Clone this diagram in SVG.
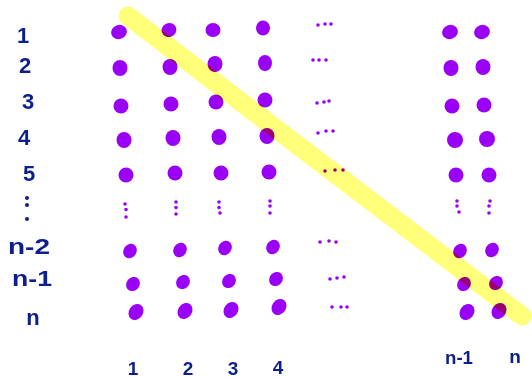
<svg xmlns="http://www.w3.org/2000/svg" width="532" height="379" viewBox="0 0 532 379">
<style>
  .lbl { font-family: "Liberation Sans", "DejaVu Sans", sans-serif; font-weight: bold; fill: #0c1f8c; text-anchor: middle; }
  .row { font-size: 22px; }
  .col { font-size: 19px; }
  .d { fill: #9a00f6; }
  .s { fill: #9a00f6; }
  .ld { fill: #0c1f8c; }
  .hl { stroke: #ffff7a; stroke-width: 19; stroke-linecap: round; fill: none; mix-blend-mode: multiply; }
</style>
<rect width="532" height="379" fill="#ffffff"/>

<g id="row-labels">
  <text class="lbl row" x="23" y="43">1</text>
  <text class="lbl row" x="25" y="73">2</text>
  <text class="lbl row" x="28" y="109">3</text>
  <text class="lbl row" x="24" y="145">4</text>
  <text class="lbl row" x="29" y="181">5</text>
  <circle class="ld" cx="27" cy="198" r="2"/>
  <circle class="ld" cx="27" cy="205" r="2"/>
  <circle class="ld" cx="27" cy="219" r="2"/>
  <text class="lbl row" x="29" y="254" textLength="42" lengthAdjust="spacingAndGlyphs">n-2</text>
  <text class="lbl row" x="32" y="286" textLength="40" lengthAdjust="spacingAndGlyphs">n-1</text>
  <text class="lbl row" x="33" y="325">n</text>
</g>

<g id="col-labels">
  <text class="lbl col" x="133" y="375">1</text>
  <text class="lbl col" x="188" y="375">2</text>
  <text class="lbl col" x="233" y="375">3</text>
  <text class="lbl col" x="278" y="374">4</text>
  <text class="lbl col" x="459" y="364" textLength="28" lengthAdjust="spacingAndGlyphs">n-1</text>
  <text class="lbl col" x="515" y="363">n</text>
</g>

<g id="dots">
  <!-- row 1 -->
  <ellipse class="d" cx="119" cy="32" rx="8" ry="7" transform="rotate(-20 119 32)"/>
  <ellipse class="d" cx="169" cy="30" rx="7.5" ry="7" transform="rotate(-20 169 30)"/>
  <ellipse class="d" cx="213" cy="30" rx="7.5" ry="7"/>
  <ellipse class="d" cx="263" cy="28" rx="7" ry="7.5"/>
  <ellipse class="d" cx="450" cy="32" rx="8" ry="7" transform="rotate(-20 450 32)"/>
  <ellipse class="d" cx="482" cy="32" rx="8" ry="7" transform="rotate(-20 482 32)"/>
  <!-- row 2 -->
  <ellipse class="d" cx="120" cy="68" rx="7.5" ry="8"/>
  <ellipse class="d" cx="170" cy="67" rx="7.5" ry="8"/>
  <ellipse class="d" cx="215" cy="64" rx="7.5" ry="8"/>
  <ellipse class="d" cx="265" cy="63" rx="7" ry="8"/>
  <ellipse class="d" cx="451" cy="68" rx="7.5" ry="8"/>
  <ellipse class="d" cx="483" cy="67" rx="7.5" ry="8"/>
  <!-- row 3 -->
  <ellipse class="d" cx="121" cy="106" rx="7.5" ry="7.5"/>
  <ellipse class="d" cx="171" cy="104" rx="7.5" ry="7.5"/>
  <ellipse class="d" cx="216" cy="102" rx="7.5" ry="7.5"/>
  <ellipse class="d" cx="265" cy="100" rx="7.5" ry="7.5"/>
  <ellipse class="d" cx="452" cy="106" rx="7.5" ry="7.5"/>
  <ellipse class="d" cx="484" cy="105" rx="7.5" ry="7.5"/>
  <!-- row 4 -->
  <ellipse class="d" cx="124" cy="140" rx="7.5" ry="8"/>
  <ellipse class="d" cx="173" cy="138" rx="7.5" ry="8"/>
  <ellipse class="d" cx="219" cy="137" rx="7.5" ry="8"/>
  <ellipse class="d" cx="267" cy="136" rx="7.5" ry="8"/>
  <ellipse class="d" cx="455" cy="140" rx="8" ry="8"/>
  <ellipse class="d" cx="487" cy="139" rx="8" ry="8"/>
  <!-- row 5 -->
  <ellipse class="d" cx="126" cy="175" rx="7.5" ry="7.5"/>
  <ellipse class="d" cx="175" cy="173" rx="7.5" ry="7.5"/>
  <ellipse class="d" cx="221" cy="173" rx="7.5" ry="7.5"/>
  <ellipse class="d" cx="269" cy="172" rx="7.5" ry="7.5"/>
  <ellipse class="d" cx="456" cy="175" rx="7.5" ry="7.5"/>
  <ellipse class="d" cx="489" cy="175" rx="7.5" ry="7.5"/>
  <!-- vertical ellipses -->
  <circle class="s" cx="125" cy="204" r="1.8"/><circle class="s" cx="126" cy="209.5" r="1.8"/><circle class="s" cx="126" cy="217" r="1.8"/>
  <circle class="s" cx="176" cy="202" r="1.8"/><circle class="s" cx="176" cy="207.5" r="1.8"/><circle class="s" cx="176" cy="214" r="1.8"/>
  <circle class="s" cx="219" cy="202" r="1.8"/><circle class="s" cx="219" cy="207.5" r="1.8"/><circle class="s" cx="220" cy="213" r="1.8"/>
  <circle class="s" cx="270" cy="201" r="1.8"/><circle class="s" cx="270" cy="206" r="1.8"/><circle class="s" cx="270" cy="213" r="1.8"/>
  <circle class="s" cx="457" cy="201" r="1.8"/><circle class="s" cx="457" cy="206" r="1.8"/><circle class="s" cx="459" cy="212" r="1.8"/>
  <circle class="s" cx="490" cy="201" r="1.8"/><circle class="s" cx="489" cy="206" r="1.8"/><circle class="s" cx="489" cy="213" r="1.8"/>
  <!-- row n-2 -->
  <ellipse class="d" cx="130" cy="251" rx="6.5" ry="7.5" transform="rotate(35 130 251)"/>
  <ellipse class="d" cx="180" cy="250" rx="6.5" ry="7.5" transform="rotate(35 180 250)"/>
  <ellipse class="d" cx="225" cy="248" rx="6.5" ry="7.5" transform="rotate(35 225 248)"/>
  <ellipse class="d" cx="273" cy="247" rx="6.5" ry="7.5" transform="rotate(35 273 247)"/>
  <ellipse class="d" cx="460" cy="251" rx="6.5" ry="7.5" transform="rotate(35 460 251)"/>
  <ellipse class="d" cx="492" cy="250" rx="6.5" ry="7.5" transform="rotate(35 492 250)"/>
  <!-- row n-1 -->
  <ellipse class="d" cx="133" cy="284" rx="6.5" ry="7.5" transform="rotate(40 133 284)"/>
  <ellipse class="d" cx="183" cy="282" rx="6.5" ry="7.5" transform="rotate(40 183 282)"/>
  <ellipse class="d" cx="229" cy="281" rx="6.5" ry="7.5" transform="rotate(40 229 281)"/>
  <ellipse class="d" cx="276" cy="279" rx="6.5" ry="7.5" transform="rotate(40 276 279)"/>
  <ellipse class="d" cx="464" cy="284" rx="6.5" ry="7.5" transform="rotate(40 464 284)"/>
  <ellipse class="d" cx="496" cy="283" rx="6.5" ry="7.5" transform="rotate(40 496 283)"/>
  <!-- row n -->
  <ellipse class="d" cx="136" cy="312" rx="7" ry="8.5" transform="rotate(35 136 312)"/>
  <ellipse class="d" cx="185" cy="311" rx="7" ry="8.5" transform="rotate(35 185 311)"/>
  <ellipse class="d" cx="231" cy="310" rx="7" ry="8.5" transform="rotate(35 231 310)"/>
  <ellipse class="d" cx="279" cy="307" rx="7" ry="8.5" transform="rotate(35 279 307)"/>
  <ellipse class="d" cx="467" cy="312" rx="7" ry="8.5" transform="rotate(35 467 312)"/>
  <ellipse class="d" cx="499" cy="311" rx="7" ry="8.5" transform="rotate(35 499 311)"/>
  <!-- horizontal ellipses -->
  <circle class="s" cx="318" cy="25" r="1.8"/><circle class="s" cx="325" cy="24" r="1.8"/><circle class="s" cx="331" cy="24" r="1.8"/>
  <circle class="s" cx="313" cy="60" r="1.8"/><circle class="s" cx="319" cy="60" r="1.8"/><circle class="s" cx="326" cy="60" r="1.8"/>
  <circle class="s" cx="317" cy="103" r="1.8"/><circle class="s" cx="324" cy="102" r="1.8"/><circle class="s" cx="329" cy="101" r="1.8"/>
  <circle class="s" cx="318" cy="133" r="1.8"/><circle class="s" cx="326" cy="131" r="1.8"/><circle class="s" cx="333" cy="131" r="1.8"/>
  <circle class="s" cx="325" cy="171" r="1.8"/><circle class="s" cx="335" cy="170" r="1.8"/><circle class="s" cx="343" cy="170" r="1.8"/>
  <circle class="s" cx="320" cy="242" r="1.8"/><circle class="s" cx="329" cy="241" r="1.8"/><circle class="s" cx="336" cy="242" r="1.8"/>
  <circle class="s" cx="330" cy="279" r="1.8"/><circle class="s" cx="337" cy="278" r="1.8"/><circle class="s" cx="344" cy="277" r="1.8"/>
  <circle class="s" cx="332" cy="307" r="1.8"/><circle class="s" cx="341" cy="307" r="1.8"/><circle class="s" cx="347" cy="307" r="1.8"/>
</g>

<g id="highlight">
  <line class="hl" x1="128" y1="16" x2="522" y2="316"/>
</g>
</svg>
